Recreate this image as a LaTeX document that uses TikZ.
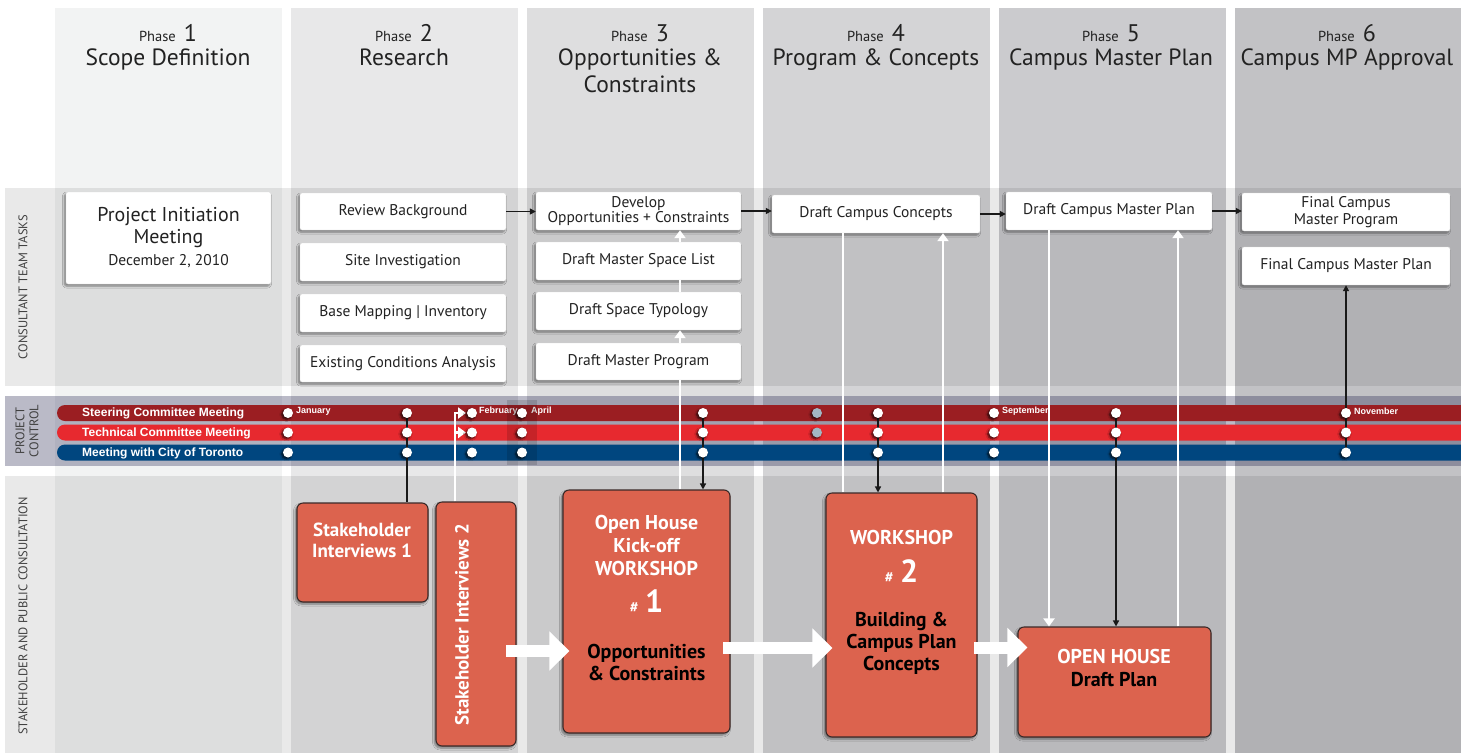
\documentclass[tikz,border=0pt]{standalone}
\usepackage{fontspec}
\setmainfont{PT Sans}
\newfontfamily\barfont{Liberation Sans}
\usetikzlibrary{arrows.meta,shapes.misc,shadows.blur,calc}
\definecolor{colA}{HTML}{F2F3F3}
\definecolor{colB}{HTML}{E8E8E9}
\definecolor{colC}{HTML}{DEDEDF}
\definecolor{colD}{HTML}{D4D4D6}
\definecolor{colE}{HTML}{CBCBCE}
\definecolor{colF}{HTML}{C2C2C5}
\definecolor{steer}{HTML}{9B1E22}
\definecolor{tech}{HTML}{E7292F}
\definecolor{city}{HTML}{00467F}
\definecolor{orangebox}{HTML}{DC634E}
\definecolor{boxedge}{HTML}{3B2A28}
\definecolor{ink}{HTML}{222222}
\definecolor{graydot}{HTML}{A3B6C3}
\begin{document}
\begin{tikzpicture}[x=1pt,y=-1pt,
  shadowed/.style={blur shadow={shadow xshift=-1.5pt, shadow yshift=-2pt, shadow blur radius=2pt, shadow blur steps=6, shadow opacity=45}},
  wbox/.style={shadowed, draw=black!15, line width=.4pt, fill=white, rounded corners=2pt, inner sep=0pt, align=center, text=ink, font=\fontsize{15.5}{15}\selectfont},
  obox/.style={shadowed, draw=boxedge, line width=1.1pt, fill=orangebox, rounded corners=6pt, inner sep=0pt},
  wtitle/.style={text=white, align=center, font=\fontsize{20}{23}\selectfont\bfseries},
  btitle/.style={text=black, align=center, font=\fontsize{20}{22}\selectfont\bfseries},
  phasehead/.style={anchor=base, text=ink, font=\fontsize{24}{24}\selectfont},
  ptitle/.style={anchor=north, text=ink, align=center, font=\fontsize{23.5}{27}\selectfont, inner sep=0pt},
  sidelabel/.style={rotate=90, text=black!75, align=center, font=\fontsize{12.5}{14}\selectfont},
  barshape/.style={rounded rectangle, rounded rectangle right arc=none, minimum width=1404pt, minimum height=16pt, inner sep=0pt},
  barlabel/.style={anchor=west, text=white, font=\barfont\bfseries\fontsize{12}{12}\selectfont, inner sep=0pt},
  monthlabel/.style={anchor=west, text=white, font=\barfont\bfseries\fontsize{9}{9}\selectfont, inner sep=0pt},
  mdot/.style={circle, fill=white, minimum size=10pt, inner sep=0pt, blur shadow={shadow xshift=-1.5pt, shadow yshift=-1.5pt, shadow blur radius=2pt, shadow opacity=75}},
  gdot/.style={mdot, fill=graydot},
  blk/.style={draw=black!90, line width=1.4pt},
  arr/.style={-{Triangle[length=6pt,width=6pt]}},
  wht/.style={draw=white, line width=2.6pt},
  warr/.style={-{Triangle[length=8pt,width=11pt]}},
  bigarrow/.style={draw=white, line width=12pt, -{Triangle[length=20pt,width=38pt]}}
]
\useasboundingbox (0,0) rectangle (1461,753);
\fill[white] (0,0) rectangle (1461,753);

% phase columns
\foreach \x/\c in {55/colA,291/colB,527/colC,763/colD,999/colE}
  \fill[\c] (\x,8) rectangle ++(227,745);
\fill[colF] (1235,8) rectangle (1461,753);

% row bands
\fill[black, opacity=.085] (5,188) rectangle (1461,386);
\fill[black!80!blue, opacity=.27] (5,396) rectangle (1461,466);
\fill[black, opacity=.085] (5,476) rectangle (1461,753);

% phase headings
\foreach \n/\x/\t in {1/168/{Scope Definition},2/404/{Research},3/640/{Opportunities \&\\Constraints},4/876/{Program \& Concepts},5/1111/{Campus Master Plan},6/1347/{Campus MP Approval}}{
  \node[phasehead] (ph\n) at (\x,41) {{\fontsize{14.5}{14}\selectfont Phase}\,\,\n};
  \node[ptitle] (pt\n) at (\x,49) {\t};
}

% row labels
\node[sidelabel] (lct) at (23,287) {CONSULTANT TEAM TASKS};
\node[sidelabel] (lpc) at (27,431) {PROJECT\\CONTROL};
\node[sidelabel] (lsp) at (23,616) {STAKEHOLDER AND PUBLIC CONSULTATION};

% meeting bars
\node[barshape, fill=steer] (bst) at (759,413) {};
\node[barshape, fill=tech] (btc) at (759,432.5) {};
\node[barshape, fill=city] (bct) at (759,452.5) {};
\node[barlabel] (lst) at (82,413) {Steering Committee Meeting};
\node[barlabel] (ltc) at (82,433) {Technical Committee Meeting};
\node[barlabel] (lcy) at (82,453) {Meeting with City of Toronto};
\node[monthlabel] (mjan) at (296,411) {January};
\node[monthlabel] (mfeb) at (479,411) {February};
\node[monthlabel] (mapr) at (531,411) {April};
\node[monthlabel] (msep) at (1002,411) {September};
\node[monthlabel] (mnov) at (1354,411) {November};
\fill[black, opacity=.14] (507,400) rectangle (537,465);

% meeting positions
\foreach \x in {288,407,472,522,703,817,878,994,1116,1346}{
  \coordinate (st\x) at (\x,413);
  \coordinate (te\x) at (\x,432.5);
  \coordinate (ci\x) at (\x,452.5);
}

% consultant team tasks
\node[wbox, minimum width=205pt, minimum height=92pt, font=\fontsize{20}{21.5}\selectfont] (pim) at (168.5,238)
  {Project Initiation\\Meeting\\[1pt]{\fontsize{15.5}{17}\selectfont December 2, 2010}};
\node[wbox, minimum width=206pt, minimum height=37pt] (rb) at (403,211.5) {Review Background};
\node[wbox, minimum width=206pt, minimum height=38pt] (si) at (403,262) {Site Investigation};
\node[wbox, minimum width=206pt, minimum height=38pt] (bm) at (403,313) {Base Mapping | Inventory};
\node[wbox, minimum width=206pt, minimum height=37pt] (eca) at (403,363.5) {Existing Conditions Analysis};
\node[wbox, minimum width=205pt, minimum height=38pt] (dev) at (638.5,211) {Develop\\Opportunities + Constraints};
\node[wbox, minimum width=205pt, minimum height=38pt] (dmsl) at (638.5,261) {Draft Master Space List};
\node[wbox, minimum width=205pt, minimum height=38pt] (dst) at (638.5,311) {Draft Space Typology};
\node[wbox, minimum width=205pt, minimum height=37pt] (dmp) at (638.5,361.5) {Draft Master Program};
\node[wbox, minimum width=208pt, minimum height=38pt] (dcc) at (876,214) {Draft Campus Concepts};
\node[wbox, minimum width=206pt, minimum height=38pt] (dcmp) at (1109,211) {Draft Campus Master Plan};
\node[wbox, minimum width=208pt, minimum height=38pt, font=\fontsize{15.5}{17}\selectfont] (fcprog) at (1346,212) {Final Campus\\Master Program};
\node[wbox, minimum width=208pt, minimum height=38pt] (fcmp) at (1346,266) {Final Campus Master Plan};

% stakeholder and public consultation
\node[obox, minimum width=131pt, minimum height=99pt] (si1) at (362.5,552.5) {};
\node[obox, minimum width=80pt, minimum height=244pt] (si2) at (476,624) {};
\node[obox, minimum width=167pt, minimum height=243pt] (ws1) at (646.5,611.5) {};
\node[obox, minimum width=151pt, minimum height=244pt] (ws2) at (901.5,615) {};
\node[obox, minimum width=193pt, minimum height=110pt] (oh) at (1114.5,682) {};

\node[wtitle, font=\fontsize{19}{21}\selectfont\bfseries] (si1t) at (362,540) {Stakeholder\\Interviews 1};
\node[wtitle, font=\fontsize{19}{21}\selectfont\bfseries, rotate=90] (si2t) at (462,624.5) {Stakeholder Interviews 2};
\node[wtitle] (ws1t) at (646.5,545) {Open House\\Kick-off\\WORKSHOP};
\node[wtitle, anchor=base] (ws1n) at (646.5,612) {{\fontsize{15}{15}\selectfont\#}\,\,{\fontsize{32}{32}\selectfont 1}};
\node[btitle] (ws1s) at (646.5,662) {Opportunities\\\& Constraints};
\node[wtitle] (ws2t) at (901.5,537) {WORKSHOP};
\node[wtitle, anchor=base] (ws2n) at (901.5,582) {{\fontsize{15}{15}\selectfont\#}\,\,{\fontsize{32}{32}\selectfont 2}};
\node[btitle] (ws2s) at (901.5,643) {Building \&\\Campus Plan\\Concepts};
\node[wtitle] (oht) at (1114,656.5) {OPEN HOUSE};
\node[btitle] (ohs) at (1114,680) {Draft Plan};

% connector columns
\coordinate (xa) at (680,0);
\coordinate (xb) at (843,0);
\coordinate (xc) at (943,0);
\coordinate (xd) at (1049,0);
\coordinate (xe) at (1178,0);
\coordinate (xf) at (455,0);

% task flow
\draw[blk, arr] (rb.east) -- (rb.east -| dev.west);
\draw[blk, arr] (dev.east) -- (dev.east -| dcc.west);
\draw[blk, arr] (dcc.east) -- (dcc.east -| dcmp.west);
\draw[blk, arr] (dcmp.east) -- (dcmp.east -| fcprog.west);

% feedback links
\draw[wht] (xa |- ws1.north) -- (xa |- dmp.south);
\draw[wht, warr] (xa |- dmp.north) -- (xa |- dst.south);
\draw[wht] (xa |- dst.north) -- (xa |- dmsl.south);
\draw[wht, warr] (xa |- dmsl.north) -- (xa |- dev.south);
\draw[wht] (xb |- dcc.south) -- (xb |- ws2.north);
\draw[wht, warr] (xc |- ws2.north) -- (xc |- dcc.south);
\draw[wht, warr] (xd |- dcmp.south) -- (xd |- oh.north);
\draw[wht, warr] (xe |- oh.north) -- (xe |- dcmp.south);
\draw[wht, warr] (xf |- si2.north) -- (xf |- st472) -- ($(st472)+(-6,0)$);
\draw[wht, warr] (xf |- te472) -- ($(te472)+(-6,0)$);

% meetings feeding consultation events
\draw[blk] (st407) -- (st407 |- si1.north);
\draw[blk, arr] (st703) -- (st703 |- ws1.north);
\draw[blk, arr] (st878) -- (st878 |- ws2.north);
\draw[blk, arr] (st1116) -- (st1116 |- oh.north);
\draw[blk, arr] (ci1346) -- (ci1346 |- fcmp.south);

% consultation sequence
\coordinate (ba1) at (506,651);
\coordinate (ba2) at (723,648);
\coordinate (ba3) at (974,647.5);
\draw[bigarrow] (ba1) -- ($(ws1.west |- ba1)+(7,0)$);
\draw[bigarrow] (ba2) -- ($(ws2.west |- ba2)+(7,0)$);
\draw[bigarrow] (ba3) -- ($(oh.west |- ba3)+(10,0)$);

% meeting dots
\foreach \x in {288,407,472,522,703,878,994,1116,1346}{
  \node[mdot] (ds\x) at (st\x) {};
  \node[mdot] (dt\x) at (te\x) {};
  \node[mdot] (dc\x) at (ci\x) {};
}
\node[gdot] (ds817) at (st817) {};
\node[gdot] (dt817) at (te817) {};
\end{tikzpicture}
\end{document}
